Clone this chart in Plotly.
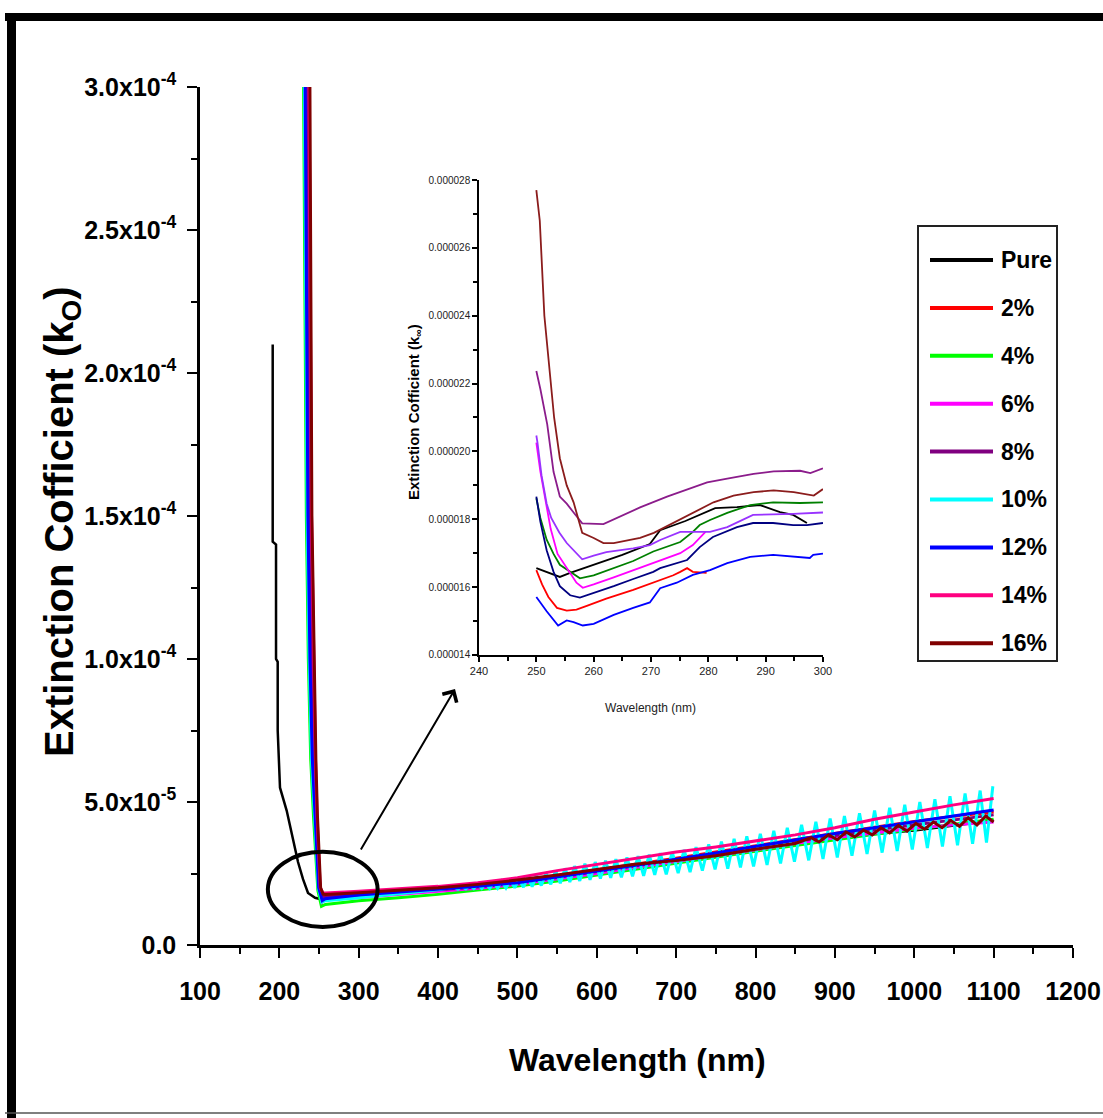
import plotly.graph_objects as go

FONT = "Liberation Sans, Arial, sans-serif"
SCALE_MAIN = 1e-5   # main-chart k values are stored in units of 1e-5
SCALE_INSET = 1e-6  # inset k values are stored in units of 1e-6

names = ["Pure", "2%", "4%", "6%", "8%", "10%", "12%", "14%", "16%"]
colors = ["#000000", "#FF0000", "#00FF00", "#FF00FF", "#800080",
          "#00FFFF", "#0000FF", "#FF0080", "#800000"]

# ---------------- main chart data (wavelength nm, k x1e-5) ----------------
band_wl = [300, 350, 400, 450, 500, 550, 600, 650, 700, 750, 800, 850,
           900, 950, 1000, 1050, 1100]

wl_pure = [191.6, 191.6, 195.8, 195.8, 197.9, 197.9, 200.8, 209.2, 217.2,
           223.5, 229.8, 236.1, 245, 252, 260] + band_wl
k_pure = [21.0, 14.1, 14.0, 10.0, 9.9, 7.5, 5.5, 4.7, 3.7, 2.9, 2.3, 1.82,
          1.65, 1.6, 1.65,
          1.72, 1.8, 1.9, 2.02, 2.16, 2.35, 2.55, 2.75, 2.95, 3.15, 3.35,
          3.55, 3.72, 3.88, 4.0, 4.18, 4.35]

wl_2 = [234.5, 236.5, 239.5, 242, 244.5, 247, 251, 255, 258] + band_wl
k_2 = [33, 30, 15, 10, 6.5, 4.5, 2.0, 1.7, 1.72,
       1.78, 1.88, 1.97, 2.08, 2.22, 2.42, 2.63, 2.83, 3.03, 3.25, 3.47,
       3.7, 3.92, 4.12, 4.32, 4.5, 4.65]

wl_4 = [228.5, 230.5, 234, 236.5, 239.5, 243, 248.5, 253, 258] + band_wl
k_4 = [33, 30, 15, 10, 6.5, 4.5, 1.9, 1.35, 1.42,
       1.55, 1.65, 1.77, 1.92, 2.06, 2.24, 2.45, 2.67, 2.88, 3.08, 3.28,
       3.48, 3.68, 3.87, 4.05, 4.22, 4.4]

wl_6 = [231.5, 233.5, 237, 239.5, 242.5, 245.5, 250, 254, 258] + band_wl
k_6 = [33, 30, 15, 10, 6.5, 4.5, 2.0, 1.5, 1.58,
       1.66, 1.76, 1.86, 1.98, 2.12, 2.3, 2.5, 2.72, 2.92, 3.12, 3.33,
       3.55, 3.75, 3.92, 4.08, 4.2, 4.3]

wl_8 = [232.5, 234.5, 238, 240.5, 243, 246, 250.5, 254.5, 258] + band_wl
k_8 = [33, 30, 15, 10, 6.5, 4.5, 2.0, 1.65, 1.68,
       1.74, 1.84, 1.93, 2.03, 2.16, 2.36, 2.56, 2.77, 2.97, 3.18, 3.4,
       3.62, 3.83, 4.02, 4.2, 4.38, 4.55]

osc_wl_10 = [420, 425, 430, 435, 440, 445, 450, 455, 460, 465, 470, 475, 480,
             485.5, 491, 496.5, 502, 507.5, 513, 518.5, 524,
             530, 536, 542, 548, 554, 560, 566, 572,
             578.5, 585, 591.5, 598, 604.5, 611, 617.5, 624,
             631, 638, 645, 652, 659, 666, 673, 680,
             687.5, 695, 702.5, 710, 717.5, 725,
             733, 741, 749, 757, 765, 773, 781, 789,
             797.5, 806, 814.5, 823, 831.5, 840,
             849, 858, 867, 876, 885, 894, 903, 912,
             921.5, 931, 940.5, 950, 959.5,
             969, 978.5, 988, 997.5, 1007, 1016.5, 1026, 1035.5, 1045, 1054.5,
             1064, 1073.5, 1083, 1091, 1099]
osc_k_10 = [2.02, 1.95, 2.05, 1.96, 2.09, 1.97, 2.13, 1.98, 2.16, 1.98, 2.19, 1.99, 2.23,
            1.99, 2.27, 2.0, 2.31, 2.02, 2.37, 2.04, 2.44,
            2.08, 2.52, 2.12, 2.6, 2.16, 2.68, 2.2, 2.76,
            2.24, 2.84, 2.28, 2.9, 2.32, 2.95, 2.35, 3.0,
            2.37, 3.06, 2.4, 3.11, 2.42, 3.16, 2.45, 3.21,
            2.47, 3.25, 2.51, 3.33, 2.55, 3.42,
            2.6, 3.52, 2.64, 3.62, 2.67, 3.71, 2.71, 3.8,
            2.75, 3.89, 2.8, 3.99, 2.85, 4.1,
            2.91, 4.2, 2.96, 4.31, 3.01, 4.42, 3.06, 4.51,
            3.12, 4.61, 3.18, 4.7, 3.23,
            4.8, 3.29, 4.9, 3.34, 5.0, 3.39, 5.1, 3.44, 5.2, 3.49,
            5.3, 3.54, 5.4, 3.58, 5.55]
wl_10 = [229.5, 231.5, 235, 237.5, 240.5, 244, 249, 253.5, 258, 300, 350, 400] + osc_wl_10
k_10 = [33, 30, 15, 10, 6.5, 4.5, 2.0, 1.5, 1.55, 1.65, 1.8, 1.93] + osc_k_10

wl_12 = [230.5, 232.5, 236, 238.5, 241.5, 245, 249.5, 254, 258] + band_wl
k_12 = [33, 30, 15, 10, 6.5, 4.5, 2.0, 1.55, 1.62,
        1.75, 1.85, 1.95, 2.05, 2.18, 2.38, 2.6, 2.8, 3.0, 3.22, 3.45,
        3.68, 3.9, 4.1, 4.3, 4.5, 4.72]

wl_14 = [235.5, 237.5, 240.5, 243, 245.5, 247.5, 251.5, 255, 258] + band_wl
k_14 = [33, 30, 15, 10, 6.5, 4.5, 2.0, 1.82, 1.82,
        1.88, 1.97, 2.05, 2.18, 2.35, 2.6, 2.82, 3.02, 3.25, 3.43, 3.65,
        3.85, 4.1, 4.4, 4.65, 4.9, 5.12]

zig_wl_16 = [870, 880, 892, 903, 914, 925, 936, 947, 958, 969, 980, 991,
             1002, 1013, 1024, 1035, 1046, 1057, 1068, 1079, 1090, 1100]
zig_k_16 = [3.75, 3.6, 3.85, 3.68, 3.95, 3.78, 4.02, 3.85, 4.1, 3.92, 4.18, 3.98,
            4.25, 4.05, 4.3, 4.1, 4.35, 4.15, 4.45, 4.2, 4.5, 4.3]
wl_16 = [236.5, 238.5, 241, 243.5, 246, 248, 252, 255, 258] + band_wl[:12] + zig_wl_16
k_16 = [33, 30, 15, 10, 6.5, 4.5, 2.0, 1.78, 1.77,
        1.83, 1.92, 2.0, 2.12, 2.27, 2.45, 2.65, 2.83, 2.95, 3.12, 3.35, 3.55] + zig_k_16

main_wl = [wl_pure, wl_2, wl_4, wl_6, wl_8, wl_10, wl_12, wl_14, wl_16]
main_k = [k_pure, k_2, k_4, k_6, k_8, k_10, k_12, k_14, k_16]
main_width = [2.5, 3, 3, 3, 3, 3, 3, 3, 3]

# ---------------- inset data (wavelength nm, k x1e-6) ----------------
inset_colors = ["#000000", "#FF0000", "#008000", "#FF00FF", "#8B1C8B",
                "#0000FF", "#000080", "#9933FF", "#8B1C1C"]

in_wl_black = [250, 254.1, 255.9, 260, 265, 269.8, 271.6, 276, 281.2, 285, 289, 292.5, 294.8, 297.2]
in_k_black = [16.56, 16.3, 16.42, 16.65, 16.95, 17.27, 17.68, 17.95, 18.33, 18.36, 18.42, 18.21, 18.13, 17.89]

in_wl_red = [250, 251, 252.1, 253.6, 255.3, 257, 258.8, 262.2, 266.9, 270.4, 273.9, 275.1, 276.3, 277.3, 279.7]
in_k_red = [16.5, 16.08, 15.71, 15.39, 15.31, 15.34, 15.45, 15.66, 15.92, 16.13, 16.35, 16.45, 16.56, 16.45, 16.42]

in_wl_green = [250, 250.7, 251.8, 253, 254.1, 255.9, 257.6, 260, 263.5, 266.9, 270.4, 273.9,
               275.1, 277.3, 278.5, 280.3, 283.3, 287.3, 291.3, 296, 300]
in_k_green = [18.62, 18.04, 17.4, 16.98, 16.66, 16.45, 16.26, 16.35, 16.56, 16.77, 17.05, 17.25,
              17.33, 17.63, 17.83, 17.98, 18.19, 18.42, 18.5, 18.48, 18.5]

in_wl_magenta = [250, 250.7, 251.6, 252.5, 253.7, 255.3, 257, 258.1, 260, 263.5, 266.9, 270.4,
                 275.1, 277.3, 279.5]
in_k_magenta = [20.26, 19.41, 18.56, 17.72, 16.98, 16.56, 16.13, 15.98, 16.08, 16.29, 16.5, 16.72,
                17.0, 17.24, 17.63]

in_wl_purple = [250, 250.7, 251.9, 253, 254.1, 255.3, 256.5, 258, 261.7, 264.7, 268.1, 272.8,
                276.3, 279.8, 283.3, 287.9, 291.4, 296, 297.8, 300]
in_k_purple = [22.37, 21.84, 20.8, 19.4, 18.67, 18.46, 18.2, 17.88, 17.86, 18.09, 18.35, 18.67,
               18.88, 19.09, 19.2, 19.34, 19.41, 19.43, 19.36, 19.5]

in_wl_blue = [250, 251.8, 253.8, 255.3, 256.5, 258.1, 260, 263.5, 266.9, 269.8, 271.6, 274.5,
              277.3, 280.3, 283.3, 287.3, 291.3, 294.8, 297.7, 298.3, 300]
in_k_blue = [15.71, 15.29, 14.87, 15.02, 14.97, 14.87, 14.92, 15.18, 15.39, 15.55, 15.97, 16.13,
             16.36, 16.5, 16.71, 16.89, 16.95, 16.89, 16.86, 16.95, 16.99]

in_wl_navy = [250, 250.7, 251.8, 253, 254.1, 255.9, 257.6, 260, 263.5, 266.9, 270.4, 271.6,
              276.3, 278.5, 280.8, 285, 287.8, 291.3, 294.8, 297.2, 300]
in_k_navy = [18.67, 17.93, 17.09, 16.45, 16.03, 15.76, 15.69, 15.82, 16.03, 16.24, 16.45, 16.56,
             16.8, 17.18, 17.48, 17.77, 17.89, 17.89, 17.83, 17.83, 17.89]

in_wl_violet = [250, 250.2, 250.9, 251.8, 252.6, 254, 255.3, 256.5, 258, 260, 262.2, 266.9,
                269.8, 271.6, 275.1, 280.3, 283.3, 287.8, 291.4, 294.8, 300]
in_k_violet = [20.47, 20.26, 19.3, 18.46, 18.04, 17.61, 17.3, 17.09, 16.82, 16.93, 17.03, 17.14,
               17.24, 17.39, 17.63, 17.63, 17.77, 18.13, 18.14, 18.16, 18.2]

in_wl_brown = [250, 250.6, 251.4, 252.2, 253.1, 254.1, 255.3, 256.5, 258, 260, 261.7, 263.5,
               266.4, 268.1, 270.5, 273.9, 277.4, 280.9, 284.4, 287.9, 291.4, 294.9, 298.4, 300]
in_k_brown = [27.7, 26.8, 24.0, 22.5, 21.0, 19.8, 19.0, 18.5, 17.6, 17.45, 17.3, 17.3,
              17.4, 17.45, 17.6, 17.9, 18.2, 18.5, 18.7, 18.8, 18.85, 18.8, 18.7, 18.89]

inset_wl = [in_wl_black, in_wl_red, in_wl_green, in_wl_magenta, in_wl_purple,
            in_wl_blue, in_wl_navy, in_wl_violet, in_wl_brown]
inset_k = [in_k_black, in_k_red, in_k_green, in_k_magenta, in_k_purple,
           in_k_blue, in_k_navy, in_k_violet, in_k_brown]

# ---------------- axis tick labels ----------------
main_y_tickvals = [0, 5e-5, 1e-4, 1.5e-4, 2e-4, 2.5e-4, 3e-4]
main_y_ticktext = ["0.0", "5.0x10<sup>-5</sup>", "1.0x10<sup>-4</sup>", "1.5x10<sup>-4</sup>",
                   "2.0x10<sup>-4</sup>", "2.5x10<sup>-4</sup>", "3.0x10<sup>-4</sup>"]

# pixel -> paper helpers (plot area: x 200..1073 px, y 945..87 px)
def px(xp):
    return (xp - 200) / 873.0


def py(yp):
    return (945 - yp) / 858.0


fig = go.Figure()

for name, color, wl, k, w in zip(names, colors, main_wl, main_k, main_width):
    assert len(wl) == len(k), name
    fig.add_trace(go.Scatter(
        x=wl, y=[v * SCALE_MAIN for v in k], mode="lines", name=name,
        showlegend=False, line=dict(color=color, width=w),
        xaxis="x", yaxis="y"))

for color, wl, k in zip(inset_colors, inset_wl, inset_k):
    assert len(wl) == len(k)
    fig.add_trace(go.Scatter(
        x=wl, y=[v * SCALE_INSET for v in k], mode="lines", showlegend=False,
        line=dict(color=color, width=1.8), xaxis="x2", yaxis="y2"))

bold = dict(family=FONT, color="black", weight="bold")

fig.update_layout(
    width=1103, height=1118,
    margin=dict(l=200, r=30, t=87, b=173, autoexpand=False),
    paper_bgcolor="white", plot_bgcolor="rgba(0,0,0,0)",
    showlegend=False,
    xaxis=dict(range=[100, 1200], domain=[0, 1], anchor="y",
               tickmode="linear", tick0=100, dtick=100,
               ticks="outside", ticklen=10, tickwidth=2, tickcolor="black",
               showline=True, linecolor="black", linewidth=2.5,
               showgrid=False, zeroline=False,
               tickfont=dict(size=25, **bold), ticklabelstandoff=12,
               minor=dict(dtick=50, tick0=100, ticks="outside", ticklen=6,
                          tickwidth=2, tickcolor="black", showgrid=False)),
    yaxis=dict(range=[0, 3e-4], domain=[0, 1], anchor="x",
               tickmode="array", tickvals=main_y_tickvals, ticktext=main_y_ticktext,
               ticks="outside", ticklen=10, tickwidth=2, tickcolor="black",
               showline=True, linecolor="black", linewidth=2.5,
               showgrid=False, zeroline=False,
               tickfont=dict(size=25, **bold), ticklabelstandoff=6,
               minor=dict(dtick=2.5e-5, tick0=0, ticks="outside", ticklen=6,
                          tickwidth=2, tickcolor="black", showgrid=False)),
    xaxis2=dict(range=[240, 300], domain=[0.3196, 0.7136], anchor="y2",
                tickmode="linear", tick0=240, dtick=10,
                ticks="outside", ticklen=5, tickwidth=1.5, tickcolor="black",
                showline=True, linecolor="black", linewidth=1.5,
                showgrid=False, zeroline=False,
                tickfont=dict(family=FONT, size=11, color="#222"),
                minor=dict(dtick=5, tick0=240, ticks="outside", ticklen=4,
                           tickwidth=1.5, tickcolor="black", showgrid=False)),
    yaxis2=dict(range=[14e-6, 28e-6], domain=[0.338, 0.8916], anchor="x2",
                tickmode="linear", tick0=14e-6, dtick=2e-6, tickformat=".6f",
                ticks="outside", ticklen=5, tickwidth=1.5, tickcolor="black",
                showline=True, linecolor="black", linewidth=1.5,
                showgrid=False, zeroline=False,
                tickfont=dict(family=FONT, size=10, color="#222"),
                minor=dict(dtick=1e-6, tick0=14e-6, ticks="outside", ticklen=4,
                           tickwidth=1.5, tickcolor="black", showgrid=False)),
)

annotations = [
    dict(text="Wavelength (nm)", x=px(637), y=py(1060), xref="paper", yref="paper",
         showarrow=False, xanchor="center", yanchor="middle",
         font=dict(size=32, **bold)),
    dict(text="Extinction Cofficient (k<sub>O</sub>)", x=px(62), y=py(522),
         xref="paper", yref="paper", showarrow=False, textangle=-90,
         xanchor="center", yanchor="middle", font=dict(size=40, **bold)),
    dict(text="Wavelength (nm)", x=px(650), y=py(708), xref="paper", yref="paper",
         showarrow=False, xanchor="center", yanchor="middle",
         font=dict(family=FONT, size=12, color="#222")),
    dict(text="Extinction Cofficient (k<sub>∞</sub>)", x=px(414), y=py(412),
         xref="paper", yref="paper", showarrow=False, textangle=-90,
         xanchor="center", yanchor="middle", font=dict(size=15, **bold)),
    dict(text="", x=px(455), y=py(689), xref="paper", yref="paper",
         showarrow=True, ax=-95, ay=162, arrowhead=4, arrowsize=1.6,
         arrowwidth=2, arrowcolor="black"),
]

shapes = [
    # highlight ellipse around the absorption edge
    dict(type="circle", xref="x", yref="y", x0=185.5, x1=323.8, y0=0.63e-5, y1=3.26e-5,
         line=dict(color="black", width=4), layer="above"),
    # frame bars of the original figure
    dict(type="rect", xref="paper", yref="paper", x0=px(5), x1=px(1103),
         y0=py(21), y1=py(13), fillcolor="black", line=dict(width=0)),
    dict(type="rect", xref="paper", yref="paper", x0=px(7), x1=px(16),
         y0=py(1118), y1=py(13), fillcolor="black", line=dict(width=0)),
    dict(type="line", xref="paper", yref="paper", x0=px(5), x1=px(1103),
         y0=py(1113), y1=py(1113), line=dict(color="#555", width=1.5)),
    # legend box
    dict(type="rect", xref="paper", yref="paper", x0=px(918), x1=px(1057),
         y0=py(661), y1=py(226), fillcolor="white",
         line=dict(color="#222", width=2), layer="above"),
]

# legend entries (sample line + label) built from the series names/colours
for i, (name, color) in enumerate(zip(names, colors)):
    yc = 260 + i * 47.9
    shapes.append(dict(type="line", xref="paper", yref="paper",
                       x0=px(930), x1=px(993), y0=py(yc), y1=py(yc),
                       line=dict(color=color, width=4), layer="above"))
    annotations.append(dict(text=name, x=px(999), y=py(yc), xref="paper", yref="paper",
                            showarrow=False, xanchor="left", yanchor="middle",
                            font=dict(size=23, **bold)))

fig.update_layout(annotations=annotations, shapes=shapes)

fig.write_html("out.html")
